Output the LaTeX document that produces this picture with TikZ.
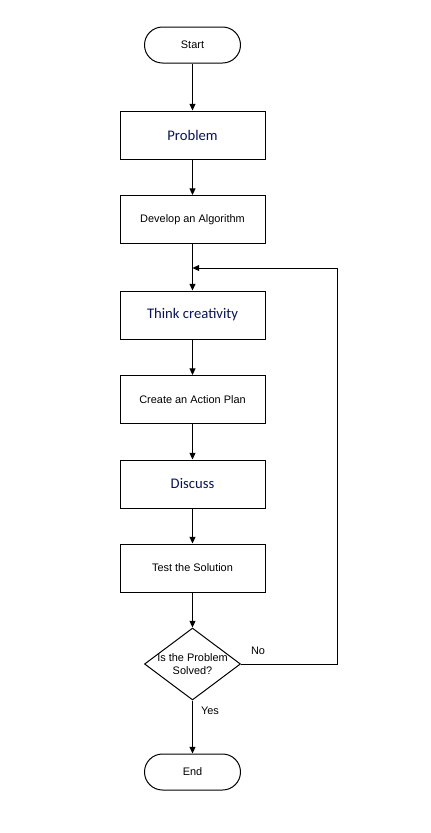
\documentclass[tikz,border=0pt]{standalone}
\usepackage{fontspec}
\setmainfont{Liberation Sans}
\newfontfamily\calib{Carlito}
\usetikzlibrary{shapes.geometric,arrows.meta}
\definecolor{navy}{RGB}{10,20,80}
\begin{document}
\begin{tikzpicture}[x=0.75pt,y=-0.75pt,
  every node/.style={font=\fontsize{8.2}{10}\selectfont},
  procbox/.style={draw, line width=0.75pt, minimum width=108.75pt, minimum height=36pt, inner sep=0pt},
  bigtext/.style={font=\calib\fontsize{11}{13}\selectfont, text=navy},
  term/.style={draw, line width=0.75pt, rounded corners=13.5pt, minimum width=72pt, minimum height=27pt, inner sep=0pt},
  decision/.style={draw, diamond, line width=0.75pt, minimum width=72pt, minimum height=54pt, inner sep=0pt},
  flow/.style={line width=0.75pt, -{Triangle[length=5pt,width=4.5pt]}}
]
\useasboundingbox (0,0) rectangle (430,833);
\node[term] (start) at (192.5,45) {Start};
\node[procbox, bigtext] (prob) at (192.5,135) {Problem};
\node[procbox] (dev) at (192.5,219.5) {Develop an Algorithm};
\node[procbox, bigtext] (think) at (192.5,315) {Think creativity};
\node[procbox] (plan) at (192.5,399.5) {Create an Action Plan};
\node[procbox, bigtext] (disc) at (192.5,484) {Discuss};
\node[procbox] (test) at (192.5,568) {Test the Solution};
\node[decision] (dec) at (192.5,664) {};
\node[align=center, inner sep=0pt, font=\fontsize{8.2}{10}\selectfont] (dectext) at (192.5,664) {Is the Problem\\Solved?};
\node[term] (end) at (192.5,772) {End};
\coordinate (loopin) at (192.5,268);
\coordinate (loopR) at (337,268);
\coordinate (loopD) at (337,664);
\draw[flow] (start) -- (prob);
\draw[flow] (prob) -- (dev);
\draw[flow] (dev) -- (think);
\draw[flow] (think) -- (plan);
\draw[flow] (plan) -- (disc);
\draw[flow] (disc) -- (test);
\draw[flow] (test) -- (dec);
\draw[flow] (dec) -- (end);
\draw[flow] (dec.east) -- (loopD) -- (loopR) -- (loopin);
\node (no) at (258,651) {No};
\node (yes) at (210,711) {Yes};
\end{tikzpicture}
\end{document}
